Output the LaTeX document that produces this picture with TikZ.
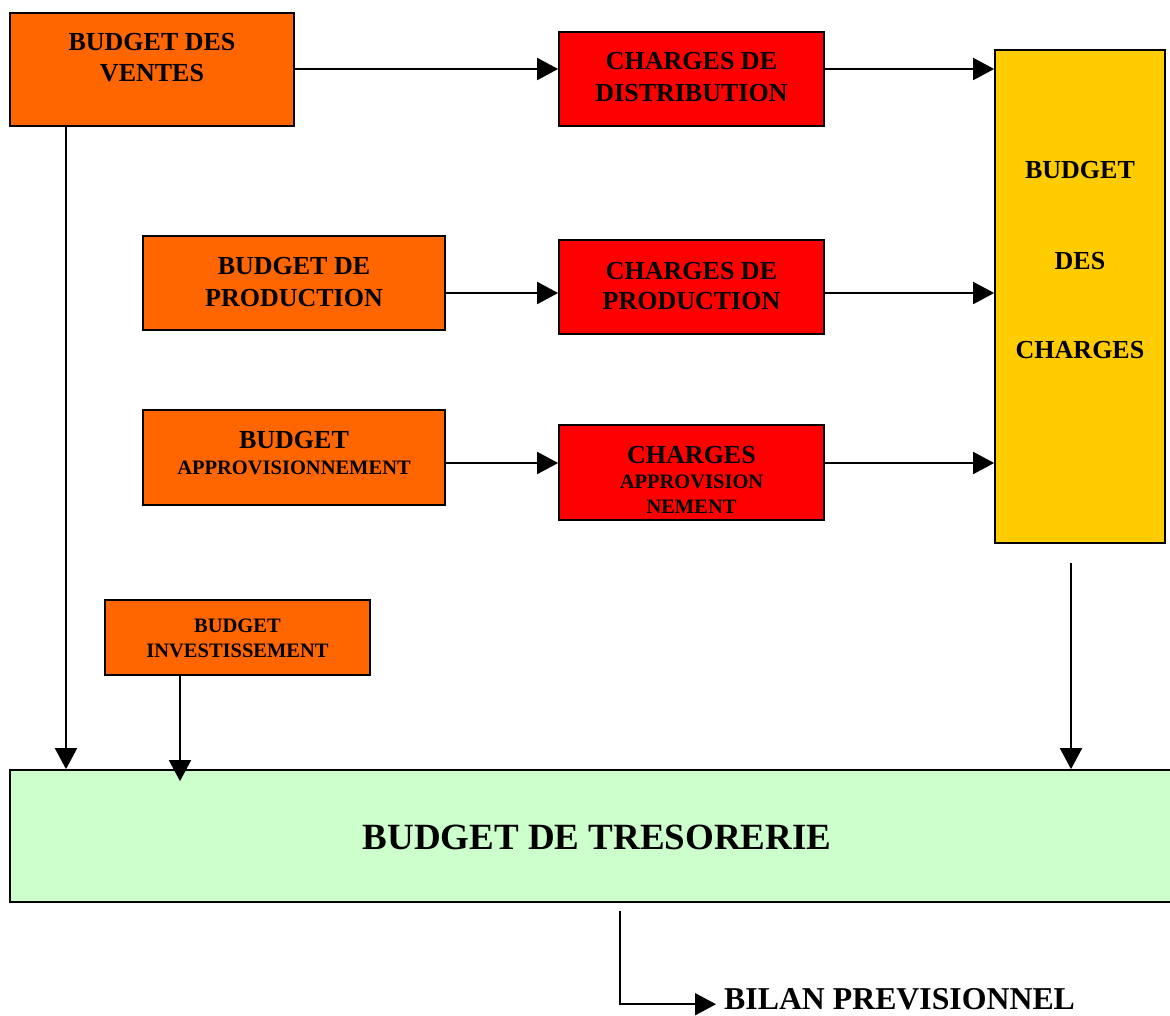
\documentclass[tikz,border=0pt]{standalone}
\usepackage{fontspec}
\setmainfont{Liberation Serif}
\usetikzlibrary{arrows.meta}
\definecolor{cOrange}{HTML}{FF6600}
\definecolor{cRed}{HTML}{FF0000}
\definecolor{cYellow}{HTML}{FFCC00}
\definecolor{cGreen}{HTML}{CCFFCC}
\begin{document}
\begin{tikzpicture}[x=1pt,y=-1pt,
  box/.style={draw=black,line width=1.7pt,rectangle,inner sep=0pt},
  lbl/.style={anchor=base,inner sep=0pt,font=\bfseries\fontsize{26}{30}\selectfont},
  lbls/.style={anchor=base,inner sep=0pt,font=\bfseries\fontsize{20.5}{24}\selectfont},
  arr/.style={line width=1.8pt,-{Triangle[length=21pt,width=22pt]}}]
\useasboundingbox (0,0) rectangle (1170,1015);
% boxes
\node[box,fill=cOrange,minimum width=284pt,minimum height=113pt] (ventes) at (152,69.5) {};
\node[box,fill=cRed,minimum width=265pt,minimum height=94pt] (dist) at (691.5,79) {};
\node[box,fill=cOrange,minimum width=302pt,minimum height=94pt] (bprod) at (294,283) {};
\node[box,fill=cRed,minimum width=265pt,minimum height=94pt] (cprod) at (691.5,287) {};
\node[box,fill=cOrange,minimum width=302pt,minimum height=95pt] (bappro) at (294,457.5) {};
\node[box,fill=cRed,minimum width=265pt,minimum height=95pt] (cappro) at (691.5,472.5) {};
\node[box,fill=cYellow,minimum width=170pt,minimum height=493pt] (bch) at (1080,296.5) {};
\node[box,fill=cOrange,minimum width=265pt,minimum height=75pt] (binv) at (237.5,637.5) {};
\node[box,fill=cGreen,minimum width=1162pt,minimum height=132pt] (treso) at (591,836) {};
% texts
\node[lbl] (t1a) at (152,50) {BUDGET DES};
\node[lbl] (t1b) at (152,81) {VENTES};
\node[lbl] (t2a) at (691.5,69) {CHARGES DE};
\node[lbl] (t2b) at (691.5,101) {DISTRIBUTION};
\node[lbl] (t3a) at (294,274) {BUDGET DE};
\node[lbl] (t3b) at (294,306) {PRODUCTION};
\node[lbl] (t4a) at (691.5,279) {CHARGES DE};
\node[lbl] (t4b) at (691.5,309) {PRODUCTION};
\node[lbl] (t5a) at (294,448) {BUDGET};
\node[lbls] (t5b) at (294,474) {APPROVISIONNEMENT};
\node[lbl] (t6a) at (691.5,463) {CHARGES};
\node[lbls] (t6b) at (691.5,488) {APPROVISION};
\node[lbls] (t6c) at (691.5,513) {NEMENT};
\node[lbl] (t7a) at (1080,178) {BUDGET};
\node[lbl] (t7b) at (1080,269) {DES};
\node[lbl] (t7c) at (1080,358) {CHARGES};
\node[lbls] (t8a) at (237.5,632) {BUDGET};
\node[lbls] (t8b) at (237.5,657) {INVESTISSEMENT};
\node[anchor=base,inner sep=0pt,font=\bfseries\fontsize{37}{42}\selectfont] (t9) at (597,849) {BUDGET DE TRESORERIE};
\node[anchor=base west,inner sep=0pt,font=\bfseries\fontsize{31.8}{36}\selectfont] (bilan) at (724,1009.5) {BILAN PREVISIONNEL};
% helper coordinates
\coordinate (ya) at (0,69);
\coordinate (yb) at (0,293);
\coordinate (yc) at (0,463);
\coordinate (xa) at (66,0);
\coordinate (xb) at (180,0);
\coordinate (xc) at (1071,0);
\coordinate (xd) at (620,0);
% connectors
\draw[arr] (ventes.east |- ya) -- (dist.west |- ya);
\draw[arr] (dist.east |- ya) -- (bch.west |- ya);
\draw[arr] (bprod.east |- yb) -- (cprod.west |- yb);
\draw[arr] (cprod.east |- yb) -- (bch.west |- yb);
\draw[arr] (bappro.east |- yc) -- (cappro.west |- yc);
\draw[arr] (cappro.east |- yc) -- (bch.west |- yc);
\draw[arr] (ventes.south -| xa) -- (treso.north -| xa);
\draw[arr,shorten >=-12pt] (binv.south -| xb) -- (treso.north -| xb);
\draw[arr,shorten <=19pt] (bch.south -| xc) -- (treso.north -| xc);
\draw[arr,shorten <=8pt] (treso.south -| xd) |- ([xshift=-8pt,yshift=-5pt]bilan.west);
\end{tikzpicture}
\end{document}
